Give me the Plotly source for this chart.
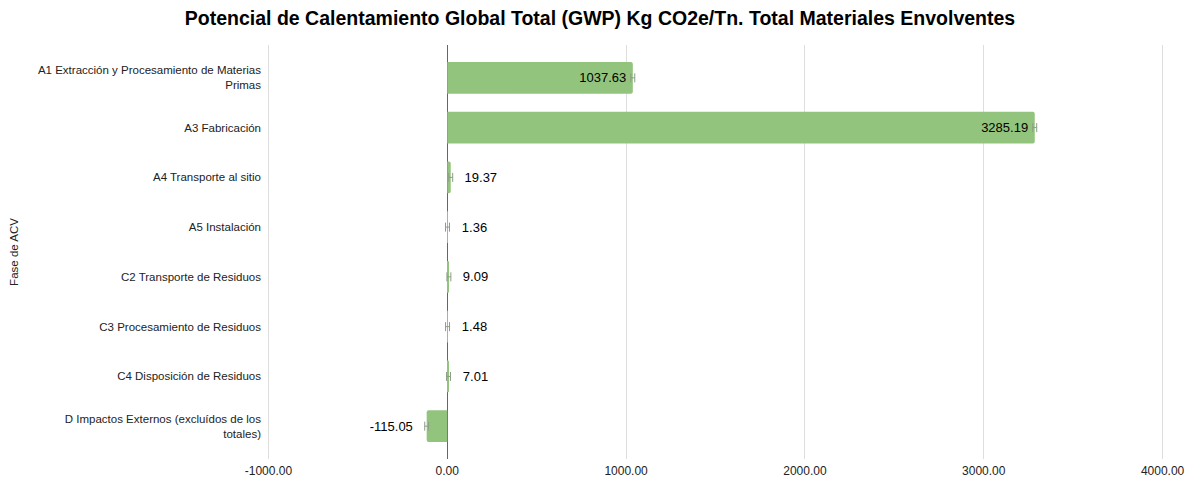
import plotly.graph_objects as go

categories = [
    "A1 Extracción y Procesamiento de Materias<br>Primas",
    "A3 Fabricación",
    "A4 Transporte al sitio",
    "A5 Instalación",
    "C2 Transporte de Residuos",
    "C3 Procesamiento de Residuos",
    "C4 Disposición de Residuos",
    "D Impactos Externos (excluídos de los<br>totales)",
]
values = [1037.63, 3285.19, 19.37, 1.36, 9.09, 1.48, 7.01, -115.05]
errors = [11, 11, 11, 11, 11, 11, 11, 11]
tick_vals = [-1000, 0, 1000, 2000, 3000, 4000]
tick_text = ["-1000.00", "0.00", "1000.00", "2000.00", "3000.00", "4000.00"]

NB = "\u00a0"
labels, positions = [], []
for v in values:
    s = f"{v:.2f}"
    if abs(v) > 500:
        labels.append(s + NB)
        positions.append("inside")
    elif v < 0:
        labels.append(s + NB * 3)
        positions.append("outside")
    else:
        labels.append(NB * 3 + s)
        positions.append("outside")

FONT = "Arial, Liberation Sans, sans-serif"

fig = go.Figure(go.Bar(
    x=values, y=categories, orientation="h",
    marker=dict(color="#93c47d", line=dict(width=0)),
    marker_cornerradius=2,
    width=0.64,
    text=labels, textposition=positions,
    insidetextanchor="end",
    textfont=dict(size=13, color="#000000", family=FONT),
    outsidetextfont=dict(size=13, color="#000000", family=FONT),
    insidetextfont=dict(size=13, color="#000000", family=FONT),
    error_x=dict(type="data", array=errors, visible=True, color="#8c9c87", thickness=1, width=4.5),
    cliponaxis=False,
))

fig.update_layout(
    width=1200, height=480,
    margin=dict(l=267, r=36, t=45, b=21),
    paper_bgcolor="white", plot_bgcolor="white",
    title=dict(text="<b>Potencial de Calentamiento Global Total (GWP) Kg CO2e/Tn. Total Materiales Envolventes</b>",
               x=0.5, xanchor="center", y=1 - 18 / 480, yanchor="middle",
               font=dict(size=19.5, color="#000000", family=FONT)),
    font=dict(family=FONT, color="#222222", size=12),
    showlegend=False,
    uniformtext=dict(minsize=13, mode="show"),
)
fig.update_xaxes(range=[-1008, 4008], tickvals=tick_vals, ticktext=tick_text,
                 showgrid=True, gridcolor="#dedede", gridwidth=1,
                 zeroline=True, zerolinecolor="#666666", zerolinewidth=1,
                 tickfont=dict(size=12, color="#222222"), showline=False, ticks="",
                 ticklabelstandoff=3, automargin=False)
fig.update_yaxes(range=[7.66, -0.66],
                 title=dict(text="Fase de ACV", font=dict(size=11.5, color="#222222"), standoff=16),
                 tickfont=dict(size=11.5, color="#222222"), ticks="", ticklabelstandoff=5,
                 showgrid=False, automargin=False)

fig.write_html("out.html")
